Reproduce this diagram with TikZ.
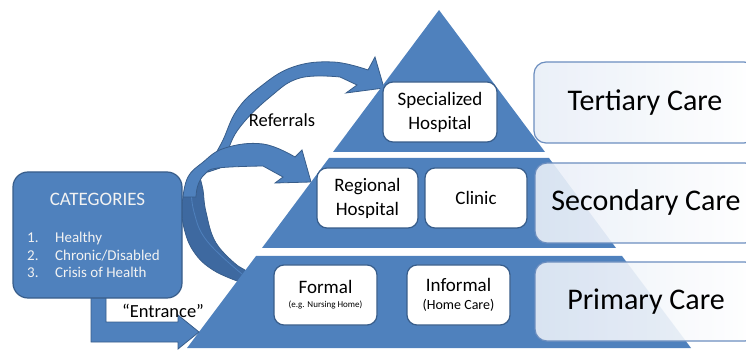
\documentclass[tikz,border=0pt]{standalone}
\usepackage{fontspec}
\setmainfont{Carlito}
\definecolor{pyr}{RGB}{79,129,189}
\definecolor{pyrdark}{RGB}{56,93,138}
\definecolor{crescent}{RGB}{62,105,160}
\definecolor{lvlfill}{RGB}{232,238,247}
\definecolor{lvledge}{RGB}{108,142,191}
\definecolor{cattext}{RGB}{242,242,242}
\begin{document}
\begin{tikzpicture}[x=1pt,y=-1pt,
  tier/.style={fill=pyr},
  arrowshape/.style={fill=pyr, draw=pyrdark, line width=0.8pt},
  innerbox/.style={draw=pyrdark, line width=1.2pt, fill=white, rounded corners=10pt,
    minimum height=60pt, inner sep=2pt, align=center, font=\fontsize{19}{24}\selectfont},
  levelbox/.style={draw=lvledge, line width=1.2pt, left color=lvlfill, right color=white, fill opacity=0.9,
    text opacity=1, rounded corners=12pt, minimum width=222pt, inner sep=2pt,
    font=\fontsize{30}{36}\selectfont},
  labeltext/.style={font=\fontsize{18.5}{22}\selectfont, inner sep=0pt}]
\useasboundingbox (0,0) rectangle (746,352);
\clip (0,0) rectangle (746,352);

% curved referral arrows
\filldraw[arrowshape] plot[smooth, tension=0.7] coordinates {(208,172) (214,157) (223,140) (237,110) (260,87) (293,67) (333,62) (368,70)}
  -- (375,57) -- (384,88) -- (346,93) -- (357,85)
  -- plot[smooth, tension=0.7] coordinates {(340,77) (300,78) (270,97) (240,127) (227,152) (220,168)} -- cycle;
\filldraw[fill=crescent, draw=pyrdark, line width=0.8pt]
  plot[smooth, tension=0.7] coordinates {(186,185) (182,205) (184,228) (194,252) (213,270) (240,282)}
  -- (250,273)
  -- plot[smooth, tension=0.7] coordinates {(238,266) (216,243) (206,212) (203,190) (200,178)} -- cycle;
\draw[pyr, line width=0.8pt] plot[smooth, tension=0.7] coordinates {(191,186) (194,212) (207,241) (242,274)};
\filldraw[arrowshape] plot[smooth, tension=0.7] coordinates {(183,197) (188,177) (202,163) (225,148) (263,144) (295,157)}
  -- (302,150) -- (311,182) -- (275,183) -- (283,177)
  -- plot[smooth, tension=0.7] coordinates {(263,166) (218,168) (205,174) (198,185) (196,197)} -- cycle;

% pyramid tiers
\fill[tier] (439,10) -- (545,152) -- (333,152) -- cycle;
\fill[tier] (329,158) -- (549,158) -- (616,248) -- (262,248) -- cycle;
\fill[tier] (256,256) -- (622,256) -- (691,348) -- (187,348) -- cycle;

% boxes in the pyramid
\node[innerbox, minimum width=114pt] (spec) at (440,112) {Specialized\\Hospital};
\node[innerbox, minimum width=101pt] (reg) at (367.5,198) {Regional\\Hospital};
\node[innerbox, minimum width=102pt] (clinic) at (476,198) {Clinic};
\node[innerbox, minimum width=103pt] (formal) at (325.5,295) {Formal\\[-10pt]{\fontsize{9}{11}\selectfont (e.g. Nursing Home)}};
\node[innerbox, minimum width=103pt] (informal) at (458.5,295) {Informal\\[-6pt]{\fontsize{14}{17}\selectfont (Home Care)}};

% level boxes
\node[levelbox, minimum height=81pt] (tert) at (645,102.5) {Tertiary Care};
\node[levelbox, minimum height=80pt] (sec) at (646,203) {Secondary Care};
\node[levelbox, minimum height=79pt] (prim) at (646,301.5) {Primary Care};

% entrance arrow
\filldraw[arrowshape] (91,290) -- (91,342) -- (178,342) -- (178,349) -- (199,332)
  -- (178,315) -- (178,322) -- (106,322) -- (106,290) -- cycle;

% categories box
\node[draw=pyrdark, line width=1.2pt, fill=pyr, rounded corners=15pt,
  minimum width=169pt, minimum height=126pt] (cat) at (97.5,235) {};
\node[text=cattext, font=\fontsize{19}{23}\selectfont] (cathead) at (97.5,199) {CATEGORIES};
\node[text=cattext, font=\fontsize{15}{17.5}\selectfont, anchor=west, inner sep=0pt, align=left] (catlist) at (27,257)
  {\begin{tabular}{@{}p{28pt}@{}l@{}}1. & Healthy\\ 2. & Chronic/Disabled\\ 3. & Crisis of Health\end{tabular}};

% labels
\node[labeltext] (referrals) at (282,120) {Referrals};
\node[labeltext] (entrance) at (163,311) {“Entrance”};
\end{tikzpicture}
\end{document}
